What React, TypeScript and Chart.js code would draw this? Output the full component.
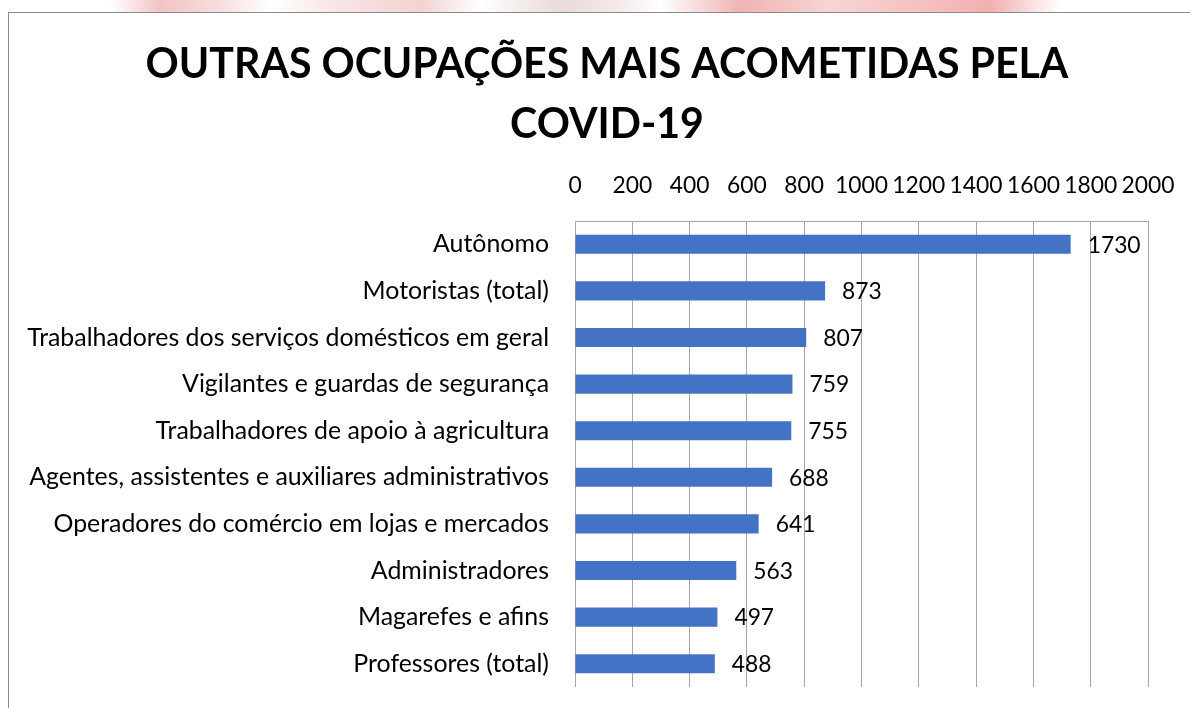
import React, { useEffect, useRef } from 'react';
import { Chart, registerables } from 'chart.js';

Chart.register(...registerables);

const titleLines = ['OUTRAS OCUPAÇÕES MAIS ACOMETIDAS PELA', 'COVID-19'];
const categories = [
  'Autônomo',
  'Motoristas (total)',
  'Trabalhadores dos serviços domésticos em geral',
  'Vigilantes e guardas de segurança',
  'Trabalhadores de apoio à agricultura',
  'Agentes, assistentes e auxiliares administrativos',
  'Operadores do comércio em lojas e mercados',
  'Administradores',
  'Magarefes e afins',
  'Professores (total)',
];
const values = [1730, 873, 807, 759, 755, 688, 641, 563, 497, 488];
const xTickValues = [0, 200, 400, 600, 800, 1000, 1200, 1400, 1600, 1800, 2000];

const FAMILY = 'Lato, "Open Sans", sans-serif';

function fitSize(text: string, target: number, weight: string): number {
  const ctx = document.createElement('canvas').getContext('2d');
  if (!ctx) return 24;
  ctx.font = `${weight} 100px ${FAMILY}`;
  const w = ctx.measureText(text).width;
  return (100 * target) / w;
}

export default function App() {
  const ref = useRef<HTMLCanvasElement | null>(null);

  useEffect(() => {
    if (!ref.current) return;
    const titleSize = fitSize(titleLines[0], 923, 'bold');
    const labelSize = fitSize(categories[2], 522, 'normal');
    const tickSize = fitSize('1600', 53, 'normal');

    const titlePlugin = {
      id: 'customTitle',
      afterDraw(chart: any) {
        const ctx = chart.ctx;
        ctx.save();
        ctx.font = `bold ${titleSize}px ${FAMILY}`;
        ctx.fillStyle = '#000';
        ctx.textAlign = 'center';
        ctx.textBaseline = 'alphabetic';
        ctx.fillText(titleLines[0], 607, 78);
        ctx.fillText(titleLines[1], 607, 138);
        ctx.restore();
      },
    };

    const dataLabels = {
      id: 'dataLabels',
      afterDatasetsDraw(chart: any) {
        const ctx = chart.ctx;
        const meta = chart.getDatasetMeta(0);
        ctx.save();
        ctx.font = `normal ${tickSize}px ${FAMILY}`;
        ctx.fillStyle = '#000';
        ctx.textAlign = 'left';
        ctx.textBaseline = 'middle';
        meta.data.forEach((el: any, i: number) => {
          ctx.fillText(String(values[i]), el.x + 17, el.y + 1);
        });
        ctx.restore();
      },
    };

    const chart = new Chart(ref.current, {
      type: 'bar',
      data: {
        labels: categories,
        datasets: [
          {
            data: values,
            backgroundColor: '#4472C4',
            borderWidth: 0,
            barPercentage: 0.41,
            categoryPercentage: 1,
          },
        ],
      },
      options: {
        indexAxis: 'y',
        animation: false,
        responsive: false,
        maintainAspectRatio: false,
        layout: { padding: { left: 0, right: 42, top: 171, bottom: 21 } },
        plugins: {
          legend: { display: false },
          tooltip: { enabled: false },
          title: { display: false },
        },
        scales: {
          x: {
            position: 'top',
            min: 0,
            max: 2000,
            afterBuildTicks: (s: any) => {
              s.ticks = xTickValues.map((v) => ({ value: v }));
            },
            afterFit: (s: any) => {
              s.height = 50;
              s.paddingLeft = 0;
              s.paddingRight = 0;
            },
            grid: { color: '#a6a6a6', drawTicks: false, lineWidth: 1 },
            border: { display: true, color: '#a6a6a6' },
            ticks: {
              font: { family: FAMILY, size: tickSize },
              color: '#000',
              padding: 22,
              maxRotation: 0,
              autoSkip: false,
              callback: (v: any) => String(v),
            },
          },
          y: {
            afterFit: (s: any) => {
              s.width = 575;
              s.paddingTop = 0;
              s.paddingBottom = 0;
            },
            grid: { display: false, drawTicks: false },
            border: { display: false },
            ticks: {
              font: { family: FAMILY, size: labelSize },
              color: '#000',
              padding: 26,
              autoSkip: false,
            },
          },
        },
      },
      plugins: [dataLabels, titlePlugin],
    } as any);

    return () => chart.destroy();
  }, []);

  return (
    <div
      style={{
        position: 'fixed',
        left: 0,
        top: 0,
        width: 1190,
        height: 708,
        overflow: 'hidden',
        background: '#fff',
      }}
    >
      <div
        style={{
          position: 'absolute',
          left: 0,
          top: 0,
          width: 1190,
          height: 12,
          background:
            'linear-gradient(90deg, #fff 0px, #fff 110px, #f2c4c4 160px, #f7dede 220px, #fff 270px, #f9e4e4 340px, #f3d2d2 420px, #fff 480px, #eadada 560px, #f4eaea 620px, #fff 660px, #f0b4b4 740px, #f7d4d4 830px, #f5c2c2 920px, #f2b0b0 990px, #fff 1060px, #fff 1190px)',
        }}
      />
      <div
        style={{
          position: 'absolute',
          left: 8,
          top: 12,
          width: 1300,
          height: 800,
          border: '1px solid #8a8a8a',
          boxSizing: 'border-box',
        }}
      />
      <canvas
        ref={ref}
        width={1190}
        height={708}
        style={{ position: 'absolute', left: 0, top: 0, display: 'block' }}
      />
    </div>
  );
}
